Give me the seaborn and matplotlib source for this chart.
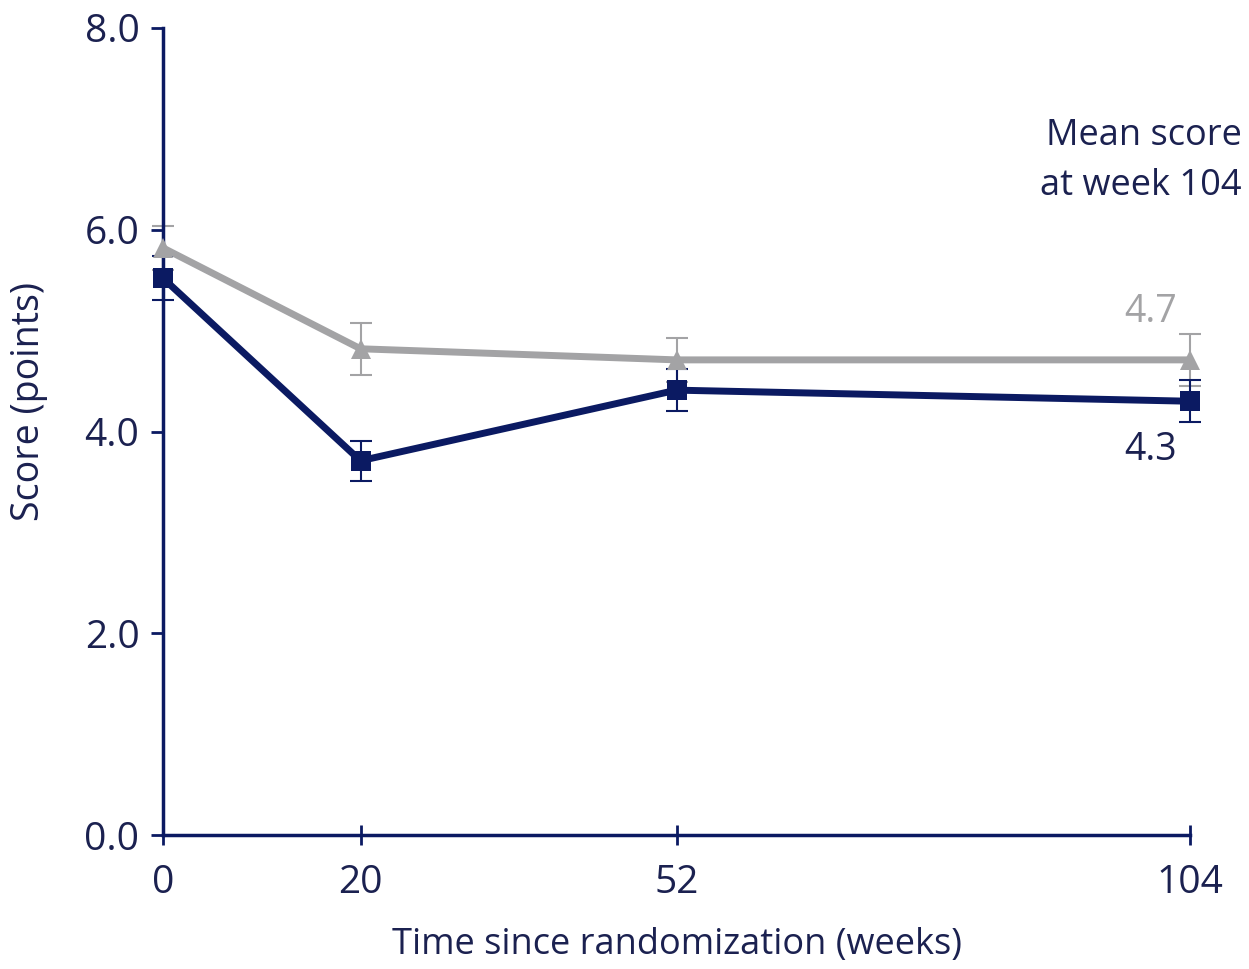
import matplotlib
matplotlib.use("Agg")
import matplotlib.pyplot as plt
import seaborn as sns
import pandas as pd

weeks = [0, 20, 52, 104]
grey_mean = [5.82, 4.82, 4.71, 4.71]
grey_err = [0.22, 0.26, 0.22, 0.26]
navy_mean = [5.52, 3.71, 4.41, 4.30]
navy_err = [0.22, 0.20, 0.21, 0.21]
yticks = [0, 2, 4, 6, 8]
ytick_labels = ["0.0", "2.0", "4.0", "6.0", "8.0"]

NAVY = "#0b1a62"
GREY = "#a3a3a5"
TXT = "#1b2150"

sns.set_theme(style="white")
plt.rcParams['font.family'] = ['Open Sans', 'DejaVu Sans']

fig = plt.figure(figsize=(12.49, 9.69), dpi=100)
ax = fig.add_axes([163/1249, 134/969, (1190-163)/1249, (835-28)/969])

df = pd.DataFrame({
    "week": weeks * 2,
    "score": grey_mean + navy_mean,
    "group": ["grey"] * 4 + ["navy"] * 4,
})

ax.errorbar(weeks, grey_mean, yerr=grey_err, fmt="none", ecolor=GREY,
            elinewidth=1.5, capsize=8, capthick=1.5, zorder=2, clip_on=False)
ax.errorbar(weeks, navy_mean, yerr=navy_err, fmt="none", ecolor=NAVY,
            elinewidth=1.5, capsize=8, capthick=1.5, zorder=2, clip_on=False)

sns.lineplot(data=df[df.group == "grey"], x="week", y="score", color=GREY,
             linewidth=5, marker="^", markersize=15, markeredgewidth=0,
             ax=ax, zorder=3, clip_on=False)
sns.lineplot(data=df[df.group == "navy"], x="week", y="score", color=NAVY,
             linewidth=5, marker="s", markersize=15, markeredgewidth=0,
             ax=ax, zorder=4, clip_on=False)

ax.set_xlim(0, 104)
ax.set_ylim(0, 8)
ax.set_xticks(weeks)
ax.set_xticklabels([str(w) for w in weeks])
ax.set_yticks(yticks)
ax.set_yticklabels(ytick_labels)

for s in ["top", "right"]:
    ax.spines[s].set_visible(False)
for s in ["left", "bottom"]:
    ax.spines[s].set_color(NAVY)
    ax.spines[s].set_linewidth(2.5)

ax.tick_params(axis="y", direction="out", length=9, width=2, color=NAVY,
               labelsize=28, labelcolor=TXT, pad=8, left=True)
ax.tick_params(axis="x", direction="inout", length=14, width=2, color=NAVY,
               labelsize=28, labelcolor=TXT, pad=14, bottom=True)

ax.set_xlabel("Time since randomization (weeks)", fontsize=26, color=TXT, labelpad=18)
ax.set_ylabel("Score (points)", fontsize=27, color=TXT)
ax.yaxis.set_label_coords(-0.112, 0.537)

fig.text(1242/1249, 1 - 161/969, "Mean score\nat week 104",
         ha="right", va="center", fontsize=26, color=TXT, linespacing=1.55)
ax.text(100, 5.18, "4.7", ha="center", va="center", fontsize=27, color=GREY)
ax.text(100, 3.82, "4.3", ha="center", va="center", fontsize=27, color=TXT)

fig.savefig("out.png", dpi=100, facecolor="white")
